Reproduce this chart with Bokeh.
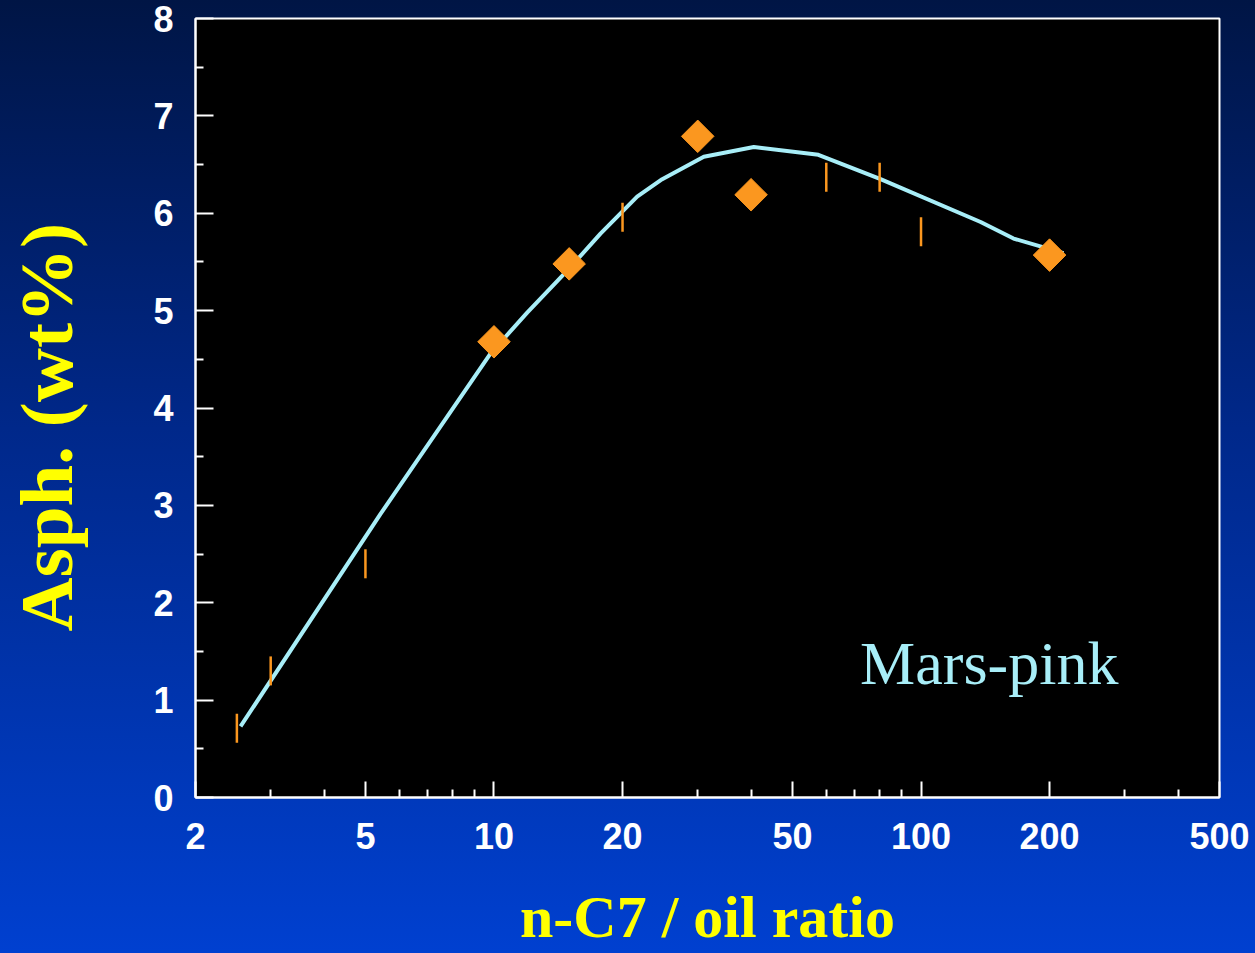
import numpy as np
from bokeh.plotting import figure
from bokeh.models import Range1d, FixedTicker, Label, Title
from bokeh.embed import file_html
from bokeh.resources import INLINE

# ---- data ----
x_ticks = [2, 5, 10, 20, 50, 100, 200, 500]
x_minor = [3, 4, 6, 7, 8, 9, 30, 40, 60, 70, 80, 90, 300, 400]
y_ticks = [0, 1, 2, 3, 4, 5, 6, 7, 8]
y_minor = [0.5, 1.5, 2.5, 3.5, 4.5, 5.5, 6.5, 7.5]

diamond_x = [10, 15, 30, 40, 200]
diamond_y = [4.68, 5.48, 6.79, 6.19, 5.57]

dash_x = [2.5, 3, 5, 20, 60, 80, 100]
dash_y = [0.71, 1.30, 2.40, 5.96, 6.37, 6.37, 5.81]

curve_x = [2.55, 5.42, 9.82, 11.96, 14.84, 17.76, 21.64, 24.77, 31.0, 40.6, 57.5, 80.4, 137.9, 164.7, 215.6]
curve_y = [0.73, 2.91, 4.56, 4.98, 5.41, 5.79, 6.17, 6.35, 6.58, 6.68, 6.60, 6.35, 5.91, 5.74, 5.59]

x_title = "n-C7 / oil ratio"
y_title = "Asph. (wt%)"
series_label = "Mars-pink"

ORANGE = "#FB971F"
CYAN = "#A8EEF8"
YELLOW = "#FFFF00"

p = figure(width=1255, height=953, x_axis_type="log",
           x_range=Range1d(2, 500), y_range=Range1d(0, 8),
           output_backend="svg", toolbar_location=None,
           min_border_left=195, min_border_right=36,
           min_border_top=18, min_border_bottom=156)
p.title.visible = False
p.styles = {"background": "linear-gradient(to bottom, #001545 0%, #00288a 45%, #0040d0 100%)"}
p.border_fill_color = None
p.background_fill_color = "black"
p.outline_line_color = "white"
p.outline_line_width = 2
p.xgrid.visible = False
p.ygrid.visible = False

p.xaxis.ticker = FixedTicker(ticks=x_ticks, minor_ticks=x_minor)
p.xaxis.major_label_overrides = {t: str(t) for t in x_ticks}
p.yaxis.ticker = FixedTicker(ticks=y_ticks, minor_ticks=y_minor)

for ax in (p.xaxis[0], p.yaxis[0]):
    ax.axis_line_color = "white"
    ax.axis_line_width = 2
    ax.major_tick_line_color = "white"
    ax.minor_tick_line_color = "white"
    ax.major_tick_line_width = 2
    ax.minor_tick_line_width = 2
    ax.major_tick_out = 0
    ax.minor_tick_out = 0
    ax.minor_tick_in = 8
    ax.major_label_text_color = "white"
    ax.major_label_text_font = "Liberation Sans"
    ax.major_label_text_font_style = "bold"
    ax.major_label_text_font_size = "36px"

p.xaxis.major_tick_in = 16
p.yaxis.major_tick_in = 18
p.yaxis.major_label_standoff = 22
p.xaxis.major_label_standoff = 25

p.xaxis.axis_label = x_title
p.xaxis.axis_label_text_font = "Liberation Serif"
p.xaxis.axis_label_text_font_style = "bold"
p.xaxis.axis_label_text_font_size = "60px"
p.xaxis.axis_label_text_color = YELLOW
p.xaxis.axis_label_standoff = 32

# empty spacer panel between the y axis and its title
p.add_layout(Title(text=" ", text_font_size="2px", standoff=59), "left")
p.add_layout(Title(text=y_title, align="left", offset=166, standoff=0,
                   vertical_align="bottom",
                   text_font="Liberation Serif", text_font_style="bold",
                   text_font_size="75px", text_color=YELLOW), "left")

p.line(curve_x, curve_y, line_color=CYAN, line_width=4)
p.scatter(dash_x, dash_y, marker="dash", angle=np.pi / 2, size=29,
          line_color=ORANGE, line_width=2.5)
p.scatter(diamond_x, diamond_y, marker="square", angle=np.pi / 4, size=23,
          fill_color=ORANGE, line_color=ORANGE)

p.add_layout(Label(x=72, y=1.38, text=series_label, text_font="Liberation Serif",
                   text_font_size="62px", text_color=CYAN,
                   text_align="left", text_baseline="alphabetic"))

open("out.html", "w").write(file_html(p, INLINE))
